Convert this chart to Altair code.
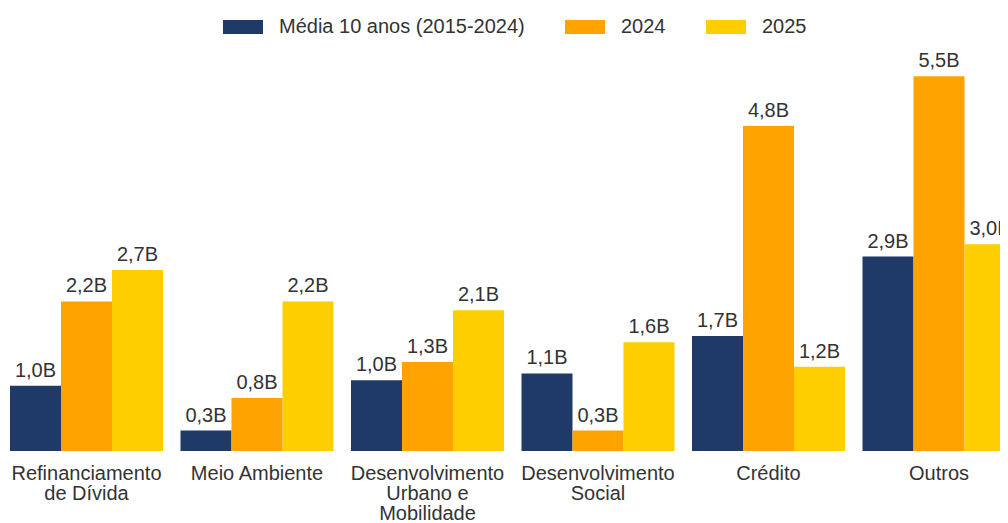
import altair as alt
import pandas as pd

CATEGORIES = [
    "Refinanciamento|de Dívida",
    "Meio Ambiente",
    "Desenvolvimento|Urbano e|Mobilidade",
    "Desenvolvimento|Social",
    "Crédito",
    "Outros",
]
SERIES = ["Média 10 anos (2015-2024)", "2024", "2025"]
COLORS = ["#1F3A68", "#FFA300", "#FFCE00"]

MEDIA = [0.96, 0.30, 1.04, 1.14, 1.69, 2.86]
Y2024 = [2.20, 0.78, 1.31, 0.30, 4.78, 5.51]
Y2025 = [2.66, 2.20, 2.07, 1.60, 1.24, 3.04]

rows = []
for s, vals in zip(SERIES, [MEDIA, Y2024, Y2025]):
    for c, v in zip(CATEGORIES, vals):
        rows.append({"cat": c, "serie": s, "valor": v,
                     "rotulo": f"{v:.1f}".replace(".", ",") + "B"})
df = pd.DataFrame(rows)

FONT = "Liberation Sans"

x_enc = alt.X("cat:N", sort=CATEGORIES,
              scale=alt.Scale(range=[2, 1007.5], paddingInner=0.1026, paddingOuter=0),
              axis=alt.Axis(title=None, labelAngle=0, ticks=False, tickSize=0, domain=False,
                            labelPadding=12, labelFontSize=20, labelFont=FONT,
                            labelColor="#333333", labelLineHeight=20, labelLimit=300,
                            labelExpr="split(datum.value, '|')"))
xo_enc = alt.XOffset("serie:N", sort=SERIES, scale=alt.Scale(paddingInner=0, paddingOuter=0))
y_enc = alt.Y("valor:Q", scale=alt.Scale(domain=[0, 5.75], nice=False, zero=True), axis=None)

bars = alt.Chart(df).mark_bar().encode(
    x=x_enc,
    xOffset=xo_enc,
    y=y_enc,
    color=alt.Color("serie:N", sort=SERIES,
                    scale=alt.Scale(domain=SERIES, range=COLORS),
                    legend=alt.Legend(title=None, orient="none", direction="horizontal",
                                      legendX=215, legendY=-53,
                                      symbolType="M-1,-0.35H1V0.35H-1Z", symbolSize=1600,
                                      symbolStrokeWidth=0, symbolOpacity=1,
                                      labelFontSize=20, labelFont=FONT, labelColor="#333333",
                                      labelOffset=16, columnPadding=40, labelLimit=400,
                                      padding=0)),
)

labels = alt.Chart(df).mark_text(baseline="alphabetic", dy=-9, fontSize=20, font=FONT,
                                 color="#333333").encode(
    x=x_enc,
    xOffset=xo_enc,
    y=y_enc,
    text="rotulo:N",
)

chart = alt.layer(bars, labels).properties(
    width=992, height=391,
    background="white",
    autosize=alt.AutoSizeParams(type="none"),
    padding={"left": 0, "top": 52, "right": 0, "bottom": 72},
).configure_view(stroke=None, strokeWidth=0)

chart.save("out.html", embed_options={"renderer": "svg", "actions": False})
